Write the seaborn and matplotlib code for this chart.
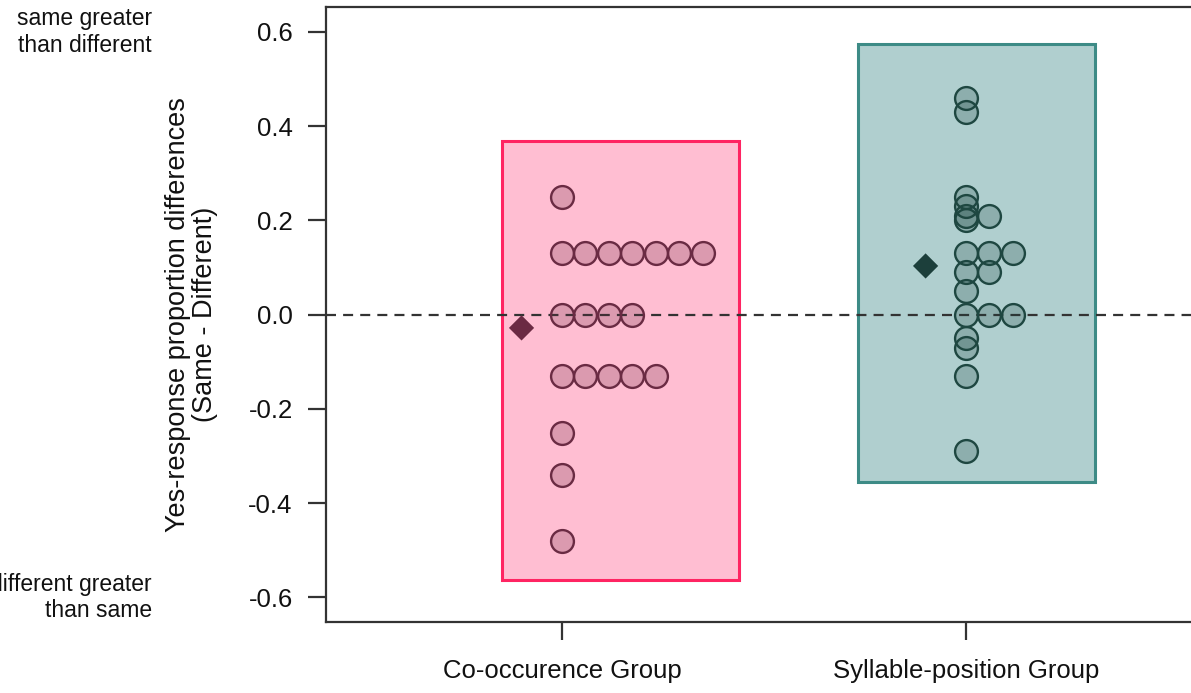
import numpy as np
import pandas as pd
import matplotlib
matplotlib.use("Agg")
import matplotlib.pyplot as plt
import matplotlib.transforms as mtransforms
from matplotlib.patches import Rectangle
import seaborn as sns

# ---- data -------------------------------------------------------------
groups = ["Co-occurence Group", "Syllable-position Group"]

cooccurrence = [0.25,
                0.13, 0.13, 0.13, 0.13, 0.13, 0.13, 0.13,
                0.00, 0.00, 0.00, 0.00,
                -0.13, -0.13, -0.13, -0.13, -0.13,
                -0.25, -0.34, -0.48]

syllable_position = [0.46, 0.43,
                     0.25, 0.23, 0.21, 0.21, 0.20,
                     0.13, 0.13, 0.13,
                     0.09, 0.09,
                     0.05,
                     0.00, 0.00, 0.00,
                     -0.05, -0.07, -0.13, -0.29]

# background panels (x from, x to, y from, y to) per group, relative to group centre
panel_x = [(-0.149, 0.438), (-0.267, 0.319)]
panel_y = [(-0.562, 0.369), (-0.356, 0.575)]

yticks = [-0.6, -0.4, -0.2, 0.0, 0.2, 0.4, 0.6]

# ---- styling ----------------------------------------------------------
panel_fill = ["#FFBED2", "#B0CFCF"]
panel_edge = ["#FF2462", "#3D8B86"]
dot_edge = ["#6A2B43", "#1E4741"]
mean_color = ["#6B2A43", "#1C3F3B"]
stack_step = 0.058
mean_offset = -0.10

sns.set_theme(style="ticks")
plt.rcParams["font.family"] = ["Liberation Sans", "DejaVu Sans"]

fig = plt.figure(figsize=(11.91, 6.93), dpi=100)
ax = fig.add_axes([0.2737, 0.1025, 0.7355, 0.8874])

# stack tied values side by side, like a stacked strip chart
rows = []
for gi, (name, vals) in enumerate(zip(groups, [cooccurrence, syllable_position])):
    seen = {}
    for v in vals:
        k = seen.get(v, 0)
        seen[v] = k + 1
        rows.append({"group": name, "gi": gi, "value": v, "xpos": gi + k * stack_step})
df = pd.DataFrame(rows)

for gi in range(2):
    x0, x1 = panel_x[gi]
    y0, y1 = panel_y[gi]
    ax.add_patch(Rectangle((gi + x0, y0), x1 - x0, y1 - y0,
                           facecolor=panel_fill[gi], edgecolor=panel_edge[gi],
                           linewidth=2.2, zorder=1))

ax.axhline(0, color="#333333", linestyle=(0, (4.5, 3.2)), linewidth=1.6, zorder=2)

for gi in range(2):
    sub = df[df["gi"] == gi]
    face = matplotlib.colors.to_rgba(dot_edge[gi], 0.24)
    sns.scatterplot(data=sub, x="xpos", y="value", ax=ax, s=270,
                    facecolors=[face], edgecolor=dot_edge[gi],
                    linewidth=1.7, zorder=3, legend=False)

means = df.groupby("gi")["value"].mean()
mean_df = pd.DataFrame({"xpos": means.index + mean_offset, "value": means.values,
                        "gi": means.index})
sns.scatterplot(data=mean_df, x="xpos", y="value", hue="gi",
                palette=mean_color, marker="D", s=165, edgecolor="none",
                ax=ax, zorder=4, legend=False)

ax.set_xlim(-0.584, 1.584)
ax.set_ylim(-0.652, 0.653)
ax.set_xticks([0, 1])
ax.set_xticklabels(groups)
ax.set_yticks(yticks)
ax.set_yticklabels([f"{t:.1f}" for t in yticks])
ax.set_xlabel("")
ax.set_ylabel("Yes-response proportion differences\n(Same - Different)",
              fontsize=19.5, labelpad=22, linespacing=1.05, color="#111111")

for side in ["left", "bottom", "top", "right"]:
    ax.spines[side].set_color("#333333")
    ax.spines[side].set_linewidth(1.6)
ax.tick_params(axis="both", colors="#333333", width=1.6, length=13,
               labelcolor="#111111", labelsize=18.5)
ax.tick_params(axis="y", pad=11)
ax.tick_params(axis="x", pad=14)

trans = mtransforms.blended_transform_factory(fig.transFigure, ax.transData)
ax.text(152 / 1191, 0.6, "same greater\nthan different", transform=trans,
        ha="right", va="center", fontsize=16.5, color="#111111", linespacing=1.2)
ax.text(152 / 1191, -0.6, "different greater\nthan same", transform=trans,
        ha="right", va="center", fontsize=16.5, color="#111111", linespacing=1.2)

fig.savefig("out.png", dpi=100)
